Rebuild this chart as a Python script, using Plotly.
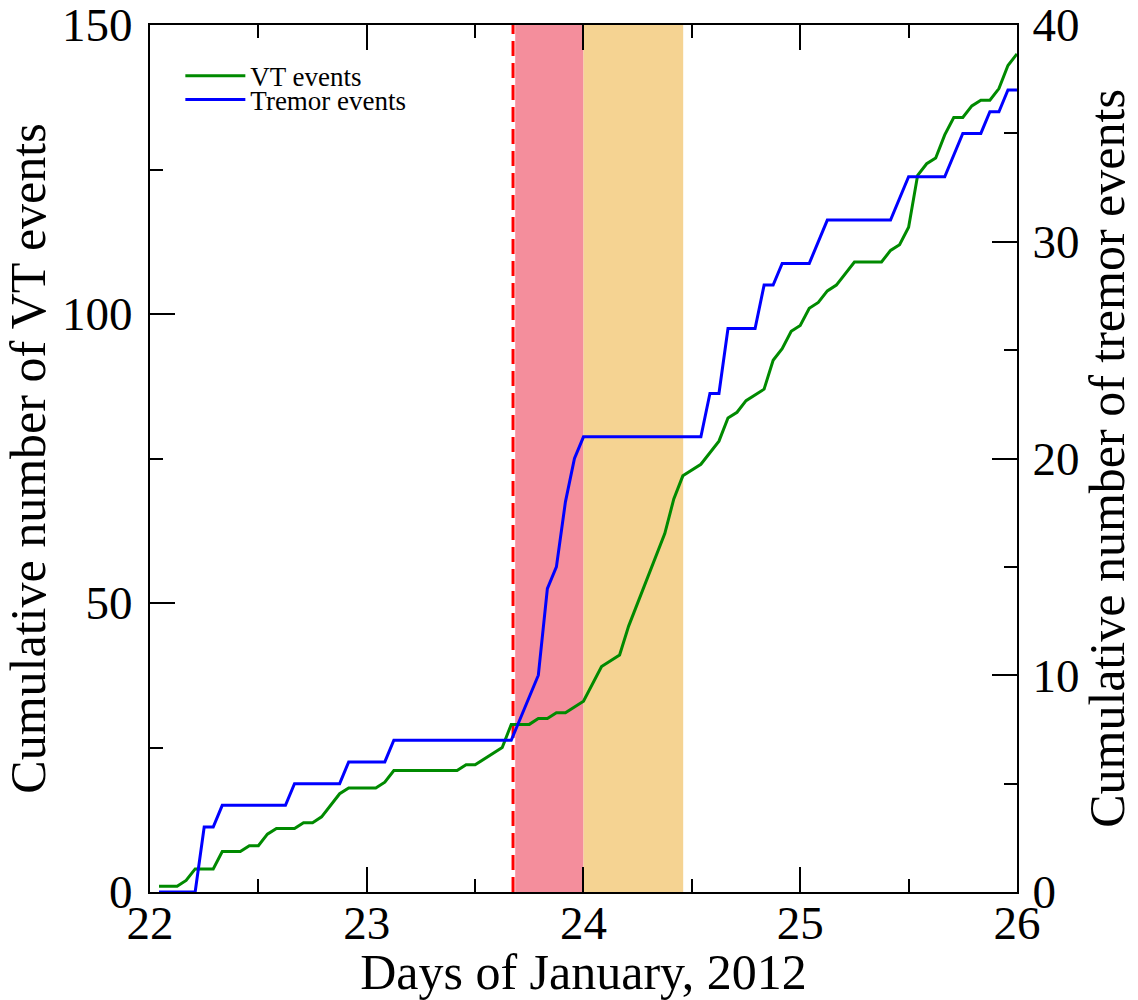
import plotly.graph_objects as go

# ---- data (hours after 00:00, 22 January 2012) ----
vt_hours = [1, 3, 4, 5, 7, 8, 10, 11, 12, 13, 14, 16, 17, 18, 19, 21, 22, 25, 26, 27,
            34, 35, 36, 38, 39, 40, 42, 43, 44, 45, 46, 47, 48, 50, 52, 53, 57, 58, 59,
            61, 63, 64, 65, 66, 68, 69, 70, 71, 72, 73, 74, 75, 76, 78, 81, 82, 83, 84,
            85, 86, 87, 88, 89, 90, 91, 92, 93, 94, 95, 96]
vt_counts = [1, 1, 2, 4, 4, 7, 7, 8, 8, 10, 11, 11, 12, 12, 13, 17, 18, 18, 19, 21,
             21, 22, 22, 24, 25, 29, 29, 30, 30, 31, 31, 32, 33, 39, 41, 46, 62, 68, 72,
             74, 78, 82, 83, 85, 87, 92, 94, 97, 98, 101, 102, 104, 105, 109, 109, 111, 112, 115,
             124, 126, 127, 131, 134, 134, 136, 137, 137, 139, 143, 145]

tremor_hours = [1, 5, 6, 7, 8, 15, 16, 21, 22, 26, 27, 40, 43, 44, 45, 46, 47, 48,
                61, 62, 63, 64, 67, 68, 69, 70, 73, 75, 82, 84, 88, 90, 92, 93, 94, 95, 96]
tremor_counts = [0, 0, 3, 3, 4, 4, 5, 5, 6, 6, 7, 7, 10, 14, 15, 18, 20, 21,
                 21, 23, 23, 26, 26, 28, 28, 29, 29, 31, 31, 33, 33, 35, 35, 36, 36, 37, 37]

start_day = 22
vt_days = [start_day + h / 24 for h in vt_hours]
tremor_days = [start_day + h / 24 for h in tremor_hours]

onset_day = 23.675          # dashed red line
phase1 = (23.685, 24.0)     # pink shading
phase2 = (24.0, 24.46)      # orange shading

x_ticks = [22, 23, 24, 25, 26]
vt_ticks = [0, 50, 100, 150]
tremor_ticks = [0, 10, 20, 30, 40]

FONT = "Liberation Serif"

fig = go.Figure()
fig.add_trace(go.Scatter(x=vt_days, y=vt_counts, mode="lines", name="VT events",
                         line=dict(color="#008a00", width=3), legend="legend"))
fig.add_trace(go.Scatter(x=tremor_days, y=tremor_counts, mode="lines", name="Tremor events",
                         line=dict(color="#0000ff", width=3), yaxis="y2", legend="legend2"))

fig.add_shape(type="rect", xref="x", yref="paper", x0=phase1[0], x1=phase1[1], y0=0, y1=1,
              fillcolor="#f48e9c", line=dict(width=0), layer="below")
fig.add_shape(type="rect", xref="x", yref="paper", x0=phase2[0], x1=phase2[1], y0=0, y1=1,
              fillcolor="#f5d392", line=dict(width=0), layer="below")
fig.add_shape(type="line", xref="x", yref="paper", x0=onset_day, x1=onset_day, y0=0, y1=1,
              line=dict(color="#ff0000", width=3, dash="15px,7px"), layer="below")

axis_common = dict(showgrid=False, zeroline=False, showline=True, linecolor="black",
                   linewidth=2, ticks="inside", tickcolor="black", tickwidth=2, ticklen=25,
                   automargin=False, ticklabeloverflow="allow",
                   tickfont=dict(family=FONT, size=47, color="black"))

legend_common = dict(xanchor="left", yanchor="middle", bgcolor="rgba(0,0,0,0)",
                     font=dict(family=FONT, size=27), itemwidth=60)

fig.update_layout(
    width=1138, height=1000,
    margin=dict(l=150, r=121, t=25, b=108),
    paper_bgcolor="white", plot_bgcolor="white",
    font=dict(family=FONT, color="black"),
    showlegend=True,
    legend=dict(x=0.035, y=0.941, **legend_common),
    legend2=dict(x=0.035, y=0.9135, **legend_common),
    xaxis=dict(range=[22, 26.0001], tickvals=x_ticks, mirror="ticks",
               minor=dict(dtick=0.5, ticks="inside", ticklen=13, tickwidth=2, tickcolor="black"),
               title=dict(text="Days of January, 2012", font=dict(family=FONT, size=50), standoff=2),
               ticklabelstandoff=-11, **axis_common),
    yaxis=dict(range=[0, 150.001], tickvals=vt_ticks, mirror=False,
               minor=dict(dtick=25, ticks="inside", ticklen=13, tickwidth=2, tickcolor="black"),
               title=dict(text="Cumulative number of VT events", font=dict(family=FONT, size=50), standoff=10),
               ticklabelstandoff=6, **axis_common),
    yaxis2=dict(range=[0, 40.0003], tickvals=tremor_ticks, overlaying="y", side="right",
                minor=dict(dtick=5, ticks="inside", ticklen=13, tickwidth=2, tickcolor="black"),
                title=dict(text="Cumulative number of tremor events", font=dict(family=FONT, size=50), standoff=10),
                ticklabelstandoff=4, **axis_common),
)

fig.write_html("out.html")
